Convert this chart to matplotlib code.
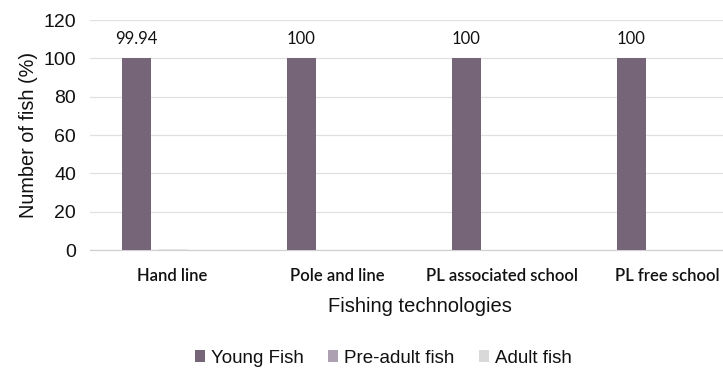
import numpy as np
import matplotlib
matplotlib.use("Agg")
import matplotlib.pyplot as plt
from matplotlib.patches import Patch

categories = ["Hand line", "Pole and line", "PL associated school", "PL free school"]
young_fish = [99.94, 100, 100, 100]
pre_adult_fish = [0.06, 0, 0, 0]
adult_fish = [0, 0, 0, 0]
series_names = ["Young Fish", "Pre-adult fish", "Adult fish"]
yticks = [0, 20, 40, 60, 80, 100, 120]

colors = ["#766578", "#ada0b0", "#d9d9d9"]

fig = plt.figure(figsize=(7.23, 3.71), dpi=100)
ax = fig.add_axes([0.1245, 0.326, 0.912, 0.62])

x = np.arange(len(categories))
width = 0.176
offset = 0.218
series = [young_fish, pre_adult_fish, adult_fish]
for i, (vals, col) in enumerate(zip(series, colors)):
    # thin outline on non-zero bars so tiny shares stay visible
    lws = [1.0 if 0 < v < 1 else 0 for v in vals]
    bars = ax.bar(x + (i - 1) * offset, vals, width, color=col,
                  edgecolor=col, linewidth=lws, zorder=3)
    if i == 0:
        for b, v in zip(bars, vals):
            ax.text(b.get_x() + b.get_width() / 2, v + 6, f"{v:g}",
                    ha="center", va="bottom", fontsize=12,
                    family="Lato", color="#111111")

ax.set_xlim(-0.5, len(categories) - 0.5)
ax.set_ylim(0, 120)
ax.set_yticks(yticks)
ax.set_yticklabels([str(t) for t in yticks], family="Liberation Sans", fontsize=14,
                   color="#111111")
ax.set_xticks(x)
ax.set_xticklabels(categories, family="Lato", fontsize=12, fontweight="semibold",
                   color="#111111")
ax.tick_params(axis="both", length=0)
ax.tick_params(axis="x", pad=13)
ax.tick_params(axis="y", pad=10)
ax.grid(axis="y", color="#e0e0e0", linewidth=0.9, zorder=0)
for s in ["top", "right", "left"]:
    ax.spines[s].set_visible(False)
ax.spines["bottom"].set_color("#d0d0d0")
ax.spines["bottom"].set_linewidth(0.9)

ax.set_ylabel("Number of fish (%)", family="Liberation Sans", fontsize=14.3,
              labelpad=4, color="#111111")
ax.set_xlabel("Fishing technologies", family="Liberation Sans", fontsize=14.5,
              labelpad=9, color="#111111")

handles = [Patch(facecolor=c, edgecolor="none") for c in colors]
fig.legend(handles, series_names, loc="center", bbox_to_anchor=(0.53, 0.035),
           ncol=3, frameon=False,
           prop={"family": "Liberation Sans", "size": 13.5},
           labelcolor="#111111",
           handlelength=0.55, handleheight=0.55, handletextpad=0.3, columnspacing=1.3)

fig.savefig("out.png", dpi=100)
